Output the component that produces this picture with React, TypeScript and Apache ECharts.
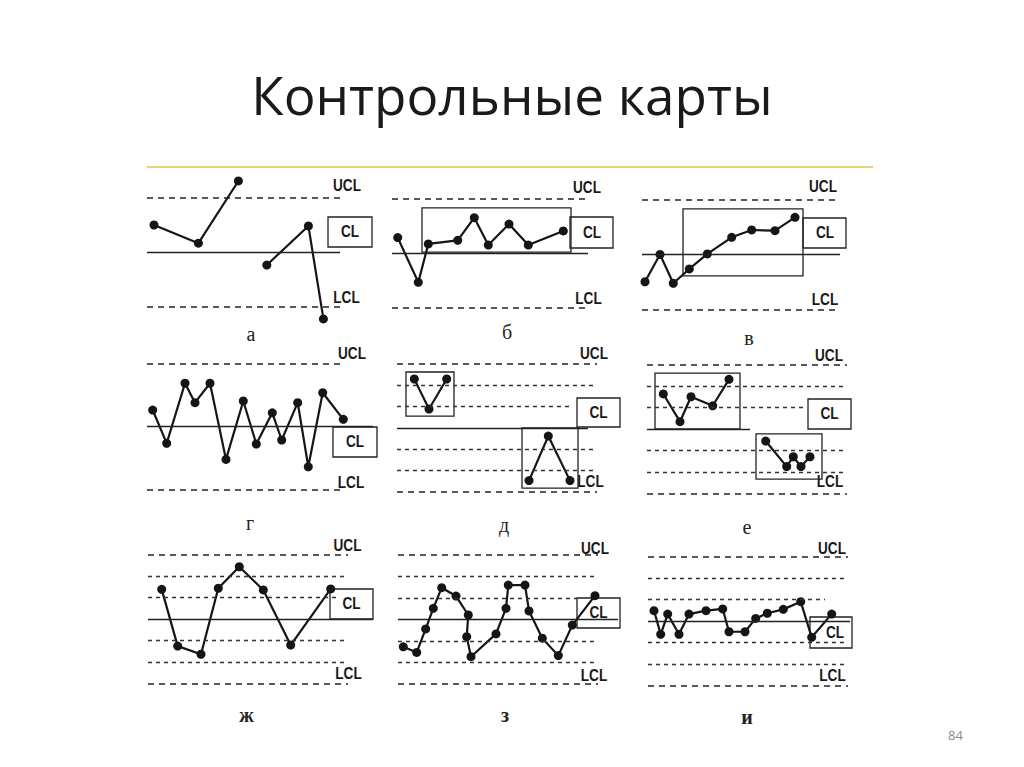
import React, { useEffect, useRef } from "react";
import * as echarts from "echarts";

// ---------- texts ----------
const TITLE = "Контрольные карты";
const PAGE_NUMBER = "84";
const PANEL_LETTERS = ["а", "б", "в", "г", "д", "е", "ж", "з", "и"];
const LIMIT_LABELS = ["UCL", "CL", "LCL"];

// control levels in sigma units
const UCL = 3;
const CL = 0;
const LCL = -3;
const ZONE_LEVELS = [2, 1, -1, -2];

// ---------- data: [position along the chart (0-100), deviation from CL in sigma] ----------
// each panel: list of runs (separate polylines)
const runsA = [
  [[3.5, 1.51], [25.7, 0.51], [45.7, 3.93]],
  [[59.9, -0.69], [80.7, 1.46], [88.2, -3.65]],
];
const runsB = [
  [[2.85, 0.85], [13.15, -1.62], [18.15, 0.5], [32.85, 0.7], [41.15, 1.95], [48.15, 0.44], [58.5, 1.6], [68.15, 0.44], [85.65, 1.22]],
];
const runsV = [
  [[1.5, -1.49], [9, 0.0], [15.65, -1.57], [23.65, -0.79], [32.65, 0.03], [44.85, 0.94], [54.85, 1.34], [66.5, 1.3], [76.5, 2.03]],
];
const runsG = [
  [[2.85, 0.79], [9.85, -0.79], [19, 2.06], [24, 1.14], [31.5, 2.06], [39.5, -1.55], [48.15, 1.22], [54.65, -0.82], [62.65, 0.66], [67.35, -0.63], [75.35, 1.14], [80.65, -1.9], [87.85, 1.61], [98.15, 0.35]],
];
const runsD = [
  [[8.65, 2.3], [16, 0.89], [24.85, 2.3]],
  [[66, -2.47], [75.65, -0.38], [86.5, -2.47]],
];
const runsE = [
  [[8.15, 1.63], [16.5, 0.34], [22, 1.5], [32.85, 1.08], [41, 2.31]],
  [[59.35, -0.56], [69.85, -1.75], [73.15, -1.29], [77, -1.75], [81.5, -1.29]],
];
const runsZh = [
  [[6.85, 1.38], [14.85, -1.26], [26.5, -1.64], [35.15, 1.43], [45.65, 2.43], [57.65, 1.35], [71.35, -1.21], [91.35, 1.4]],
];
const runsZ = [
  [[2.65, -1.27], [9.35, -1.53], [13.85, -0.44], [17.65, 0.52], [21.85, 1.48], [29, 1.09], [35.15, 0.21], [34.35, -0.8], [36.5, -1.73], [49, -0.67], [54, 0.52], [55.15, 1.6], [63.5, 1.6], [65.5, 0.4], [72.15, -0.87], [80.15, -1.68], [87.15, -0.26], [98.5, 1.11]],
];
const runsI = [
  [[3, 0.49], [6.35, -0.61], [9.85, 0.33], [15.5, -0.61], [20.5, 0.33], [29, 0.49], [37.35, 0.57], [40.5, -0.49], [48.5, -0.49], [53.85, 0.13], [59.65, 0.37], [67.65, 0.55], [76.35, 0.91], [81.85, -0.75], [91.85, 0.33]],
];

// highlighted groups of points: [[x0, y0], [x1, y1]]
const boxesB = [[[15, 2.49], [89.5, 0.05]]];
const boxesV = [[[20.5, 2.49], [80.5, -1.17]]];
const boxesD = [[[4.5, 2.63], [28.5, 0.56]], [[62.5, 0], [90.5, -2.82]]];
const boxesE = [[[4, 2.6], [46.5, 0]], [[54.5, -0.23], [87.5, -2.33]]];

const PANEL_RUNS = [runsA, runsB, runsV, runsG, runsD, runsE, runsZh, runsZ, runsI];
const PANEL_BOXES = [[], boxesB, boxesV, [], boxesD, boxesE, [], [], []];

// ---------- layout (pixels) ----------
type Layout = {
  L: number; cl: number; s: number;
  limEnd: number; clEnd: number; zones: boolean; zone1End: number;
  clBox: number[]; ucl: number[]; clText: number[]; lcl: number[]; letter: number[];
};
const LAYOUTS: Layout[] = [
  { L: 147, cl: 252.5, s: 18.2, limEnd: 96.5, clEnd: 96.5, zones: false, zone1End: 100, clBox: [328, 217, 44, 30], ucl: [347, 186], clText: [350, 232], lcl: [346.5, 297.5], letter: [251, 334] },
  { L: 392, cl: 253, s: 18.1, limEnd: 99, clEnd: 98, zones: false, zone1End: 100, clBox: [570, 217, 43, 31], ucl: [587, 187.5], clText: [592, 233], lcl: [588.5, 298.5], letter: [507, 332] },
  { L: 642, cl: 254.5, s: 18.3, limEnd: 99, clEnd: 99, zones: false, zone1End: 100, clBox: [803, 218, 43, 30], ucl: [823, 186.5], clText: [825, 233], lcl: [825, 300], letter: [749, 337.5] },
  { L: 147, cl: 426.7, s: 21.1, limEnd: 99, clEnd: 113, zones: false, zone1End: 100, clBox: [333, 427, 44, 30], ucl: [352, 354], clText: [355, 442], lcl: [351, 483], letter: [250, 522.5] },
  { L: 397, cl: 428, s: 21.3, limEnd: 100, clEnd: 95.5, zones: true, zone1End: 86.5, clBox: [577, 398, 43, 29], ucl: [594, 354], clText: [598.5, 412.5], lcl: [590.5, 481.5], letter: [504, 525] },
  { L: 647, cl: 429, s: 21.5, limEnd: 100, clEnd: 51.5, zones: true, zone1End: 80, clBox: [808, 399, 43, 30], ucl: [829, 356], clText: [829.5, 414], lcl: [830, 481.5], letter: [747, 527] },
  { L: 148, cl: 619, s: 21.5, limEnd: 100, clEnd: 112.5, zones: true, zone1End: 96, clBox: [330, 589, 43, 30], ucl: [347.5, 546], clText: [351.5, 604], lcl: [348.5, 674], letter: [246.5, 714.5] },
  { L: 398, cl: 619.5, s: 21.5, limEnd: 100, clEnd: 110, zones: true, zone1End: 89.5, clBox: [577, 598, 43, 30], ucl: [595, 548.5], clText: [598.5, 613], lcl: [594, 676], letter: [505, 714.5] },
  { L: 648, cl: 621.2, s: 21.5, limEnd: 100, clEnd: 101, zones: true, zone1End: 88.5, clBox: [810, 617, 42, 31], ucl: [832, 549], clText: [835, 632.5], lcl: [832.5, 676], letter: [747, 716.5] },
];

const INK = "#151515";
const LIMIT_STYLE = { color: "#222", width: 1.6, type: [6, 5] as number[] };
const ZONE_STYLE = { color: "#333", width: 1.3, type: [4, 4] as number[] };
const CL_STYLE = { color: "#222", width: 1.4, type: "solid" };
const X_MAX = 120;
const Y_HALF = 4.5;

function seg(x0: number, x1: number, y: number, style: any) {
  return [
    { coord: [x0, y], lineStyle: style },
    { coord: [x1, y] },
  ];
}

function buildOption() {
  const grid: any[] = [];
  const xAxis: any[] = [];
  const yAxis: any[] = [];
  const series: any[] = [];
  const graphic: any[] = [];

  graphic.push({
    type: "text",
    style: {
      text: TITLE, x: 512, y: 94, align: "center", verticalAlign: "middle",
      fontSize: 53, fontFamily: "'Open Sans', 'Noto Sans', sans-serif", fill: "#1a1a1a",
    },
  });
  graphic.push({
    type: "line",
    shape: { x1: 147, y1: 167, x2: 873, y2: 167 },
    style: { stroke: "#ead27a", lineWidth: 2 },
  });
  graphic.push({
    type: "text",
    style: {
      text: PAGE_NUMBER, x: 955.5, y: 735, align: "center", verticalAlign: "middle",
      fontSize: 13, fontFamily: "'Open Sans', sans-serif", fill: "#8a8a8a",
    },
  });

  LAYOUTS.forEach((lay, i) => {
    grid.push({ left: lay.L, top: lay.cl - Y_HALF * lay.s, width: 2 * X_MAX, height: 2 * Y_HALF * lay.s, containLabel: false });
    xAxis.push({ type: "value", gridIndex: i, min: 0, max: X_MAX, show: false });
    yAxis.push({ type: "value", gridIndex: i, min: -Y_HALF, max: Y_HALF, show: false });

    const lines: any[] = [
      seg(0, lay.limEnd, UCL, LIMIT_STYLE),
      seg(0, lay.clEnd, CL, CL_STYLE),
      seg(0, lay.limEnd, LCL, LIMIT_STYLE),
    ];
    if (lay.zones) {
      ZONE_LEVELS.forEach((z) => {
        lines.push(seg(0, z === 1 ? lay.zone1End : lay.limEnd, z, ZONE_STYLE));
      });
    }
    const areas = PANEL_BOXES[i].map((b) => [{ coord: b[0] }, { coord: b[1] }]);

    PANEL_RUNS[i].forEach((run, k) => {
      series.push({
        type: "line",
        xAxisIndex: i,
        yAxisIndex: i,
        data: run,
        symbol: "circle",
        symbolSize: 9,
        showSymbol: true,
        clip: false,
        itemStyle: { color: INK },
        lineStyle: { color: INK, width: 2.2 },
        silent: true,
        z: 3,
        markLine: k === 0 ? {
          silent: true, symbol: ["none", "none"], label: { show: false }, animation: false, data: lines,
        } : undefined,
        markArea: k === 0 && areas.length ? {
          silent: true, label: { show: false }, animation: false,
          itemStyle: { color: "rgba(0,0,0,0)", borderColor: "#222", borderWidth: 1.3 },
          data: areas,
        } : undefined,
      });
    });

    const [bx, by, bw, bh] = lay.clBox;
    graphic.push({
      type: "rect",
      shape: { x: bx, y: by, width: bw, height: bh },
      style: { fill: "none", stroke: "#222", lineWidth: 1.3 },
    });
    const labelFont = { fontSize: 16, fontWeight: "bold", fontFamily: "'Liberation Sans', Arial, sans-serif", fill: "#1a1a1a", align: "center", verticalAlign: "middle", x: 0, y: 0 };
    const pos = [lay.ucl, lay.clText, lay.lcl];
    pos.forEach((p, j) => {
      graphic.push({ type: "text", x: p[0], y: p[1], scaleX: 0.85, style: { ...labelFont, text: LIMIT_LABELS[j] } });
    });
    graphic.push({
      type: "text",
      style: {
        text: PANEL_LETTERS[i], x: lay.letter[0], y: lay.letter[1], align: "center", verticalAlign: "middle",
        fontSize: 20, fontFamily: "'Liberation Serif', 'DejaVu Serif', serif", fill: "#222",
        fontWeight: i >= 6 ? "bold" : "normal",
      },
    });
  });

  return {
    animation: false,
    backgroundColor: "#ffffff",
    grid, xAxis, yAxis, series, graphic,
  };
}

export default function App() {
  const ref = useRef<HTMLDivElement>(null);
  useEffect(() => {
    if (!ref.current) return;
    const chart = echarts.init(ref.current, null, { renderer: "svg" });
    chart.setOption(buildOption() as any);
    return () => chart.dispose();
  }, []);
  return (
    <div
      ref={ref}
      style={{ position: "absolute", left: 0, top: 0, width: 1024, height: 767, background: "#fff" }}
    />
  );
}
